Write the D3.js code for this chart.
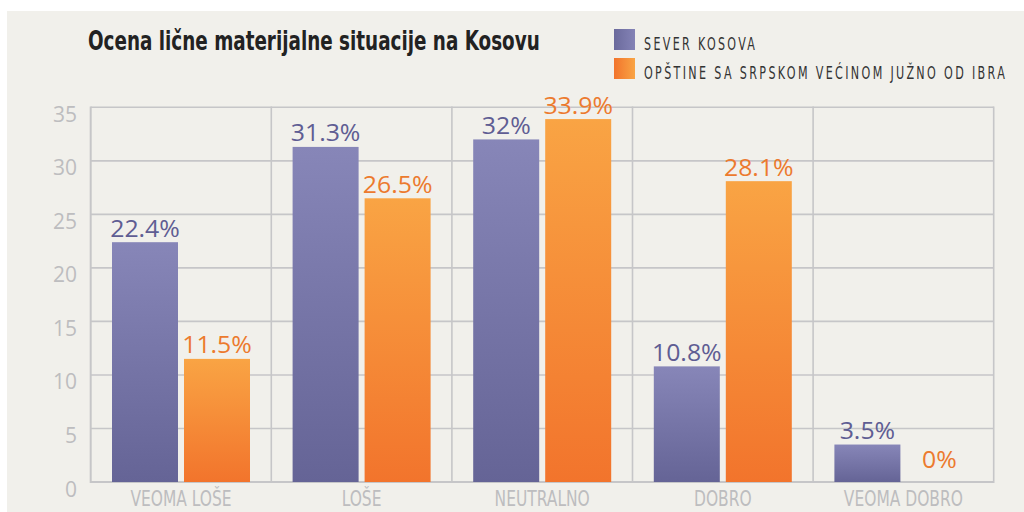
<!DOCTYPE html>
<html><head><meta charset="utf-8">
<script src="https://cdn.jsdelivr.net/npm/d3@7"></script>
<style>
html,body{margin:0;padding:0;background:#fff;}
svg{display:block;}
</style></head>
<body>
<svg id="chart" width="1024" height="512"></svg>
<script>
const title = "Ocena lične materijalne situacije na Kosovu";
const categories = ["VEOMA LOŠE", "LOŠE", "NEUTRALNO", "DOBRO", "VEOMA DOBRO"];
const seriesNames = ["SEVER KOSOVA", "OPŠTINE SA SRPSKOM VEĆINOM JUŽNO OD IBRA"];
const severValues = [22.4, 31.3, 32, 10.8, 3.5];
const juznoValues = [11.5, 26.5, 33.9, 28.1, 0];
const yTicks = [0, 5, 10, 15, 20, 25, 30, 35];

const series = [
  {name: seriesNames[0], values: severValues, grad: "gPurple", color: "#5f5d93"},
  {name: seriesNames[1], values: juznoValues, grad: "gOrange", color: "#ec7a2e"}
];

const svg = d3.select("#chart");
const defs = svg.append("defs");
function grad(id, top, bottom, horizontal) {
  const g = defs.append("linearGradient").attr("id", id)
    .attr("x1", 0).attr("y1", 0).attr("x2", horizontal ? 1 : 0).attr("y2", horizontal ? 0 : 1);
  g.append("stop").attr("offset", "0%").attr("stop-color", top);
  g.append("stop").attr("offset", "100%").attr("stop-color", bottom);
}
grad("gPurple", "#8786b8", "#656496");
grad("gOrange", "#f9a444", "#f2742c");
grad("gPurpleL", "#6b6a9c", "#8483b6", true);
grad("gOrangeL", "#f2742c", "#f9a444", true);

function squeeze(sel, sx) {
  sel.each(function() {
    const t = d3.select(this);
    const tx = +t.attr("x"), ty = +t.attr("y");
    t.attr("transform", `translate(${tx},${ty}) scale(${sx},1) translate(${-tx},${-ty})`);
  });
}

// panel
svg.append("rect").attr("x", 7).attr("y", 11).attr("width", 1017).attr("height", 501).attr("fill", "#f1f0eb");

const margin = {left: 90.7, right: 993.7, top: 107.3, bottom: 482};
const x = d3.scaleBand().domain(categories).range([margin.left, margin.right]).paddingInner(0).paddingOuter(0);
const y = d3.scaleLinear().domain([0, 35]).range([margin.bottom, margin.top]);
const bw = 66, gap = 6;

const gridColor = "#c6c6c8";
svg.append("g").selectAll("line").data(yTicks).join("line")
  .attr("x1", margin.left).attr("x2", margin.right)
  .attr("y1", d => y(d)).attr("y2", d => y(d))
  .attr("stroke", gridColor).attr("stroke-width", d => d === 0 ? 2 : 1.6);
const vx = categories.map(c => x(c)).concat([margin.right]);
svg.append("g").selectAll("line").data(vx).join("line")
  .attr("x1", d => d).attr("x2", d => d)
  .attr("y1", margin.top - 0.8).attr("y2", margin.bottom + 1)
  .attr("stroke", gridColor).attr("stroke-width", (d, i) => i === 0 ? 2 : 1.6);

// y tick labels
svg.append("g").selectAll("text").data(yTicks).join("text")
  .attr("x", 77).attr("y", d => y(d) + 14.5)
  .attr("text-anchor", "end")
  .attr("font-family", "'Open Sans', 'Noto Sans', sans-serif")
  .attr("font-size", 21).attr("fill", "#bdbdbf")
  .text(d => d);

// x labels
svg.append("g").selectAll("text").data(categories).join("text")
  .attr("x", d => x(d) + x.bandwidth() / 2).attr("y", 506.5)
  .attr("text-anchor", "middle")
  .attr("font-family", "'DejaVu Sans Condensed', 'Liberation Sans Narrow', sans-serif")
  .attr("font-stretch", "condensed")
  .attr("font-size", 21).attr("fill", "#bdbdbf")
  .text(d => d)
  .call(squeeze, 0.82);

// bars
const innerPad = (x.bandwidth() - 2 * bw - gap) / 2;
series.forEach((s, si) => {
  const g = svg.append("g");
  const bx = c => x(c) + innerPad + si * (bw + gap);
  const rows = categories.map((c, i) => ({c, v: s.values[i]}));
  g.selectAll("rect").data(rows).join("rect")
    .attr("x", d => bx(d.c)).attr("width", bw)
    .attr("y", d => y(d.v)).attr("height", d => y(0) - y(d.v))
    .attr("fill", `url(#${s.grad})`);
  g.selectAll("text").data(rows).join("text")
    .attr("x", d => bx(d.c) + bw / 2).attr("y", d => y(d.v) - 5.5 - (d.v === 0 ? 8 : 0))
    .attr("text-anchor", "middle")
    .attr("font-family", "'Open Sans', 'Noto Sans', sans-serif")
    .attr("font-size", 23).attr("fill", s.color)
    .text(d => d.v + "%")
    .call(squeeze, 1.08);
});

// title
const titleText = svg.append("text").attr("x", 88).attr("y", 50)
  .attr("font-family", "'DejaVu Sans Condensed', 'Liberation Sans Narrow', sans-serif")
  .attr("font-stretch", "condensed")
  .attr("font-weight", "bold").attr("font-size", 27).attr("fill", "#222")
  .text(title);
titleText.call(squeeze, 452 / titleText.node().getComputedTextLength());

// legend
const legendWidths = [111, 361];
series.forEach((s, i) => {
  const ly = 29 + i * 29;
  svg.append("rect").attr("x", 614).attr("y", ly).attr("width", 21).attr("height", 21)
    .attr("fill", i === 0 ? "url(#gPurpleL)" : "url(#gOrangeL)");
  const t = svg.append("text").attr("x", 644).attr("y", ly + 21)
    .attr("font-family", "'DejaVu Sans Condensed', 'Liberation Sans Narrow', sans-serif")
    .attr("font-size", 18.5).attr("fill", "#333")
    .attr("letter-spacing", 3.5)
    .text(s.name);
  const w = t.node().getComputedTextLength() - 3.5;
  t.call(squeeze, legendWidths[i] / w);
});
</script>
</body></html>
